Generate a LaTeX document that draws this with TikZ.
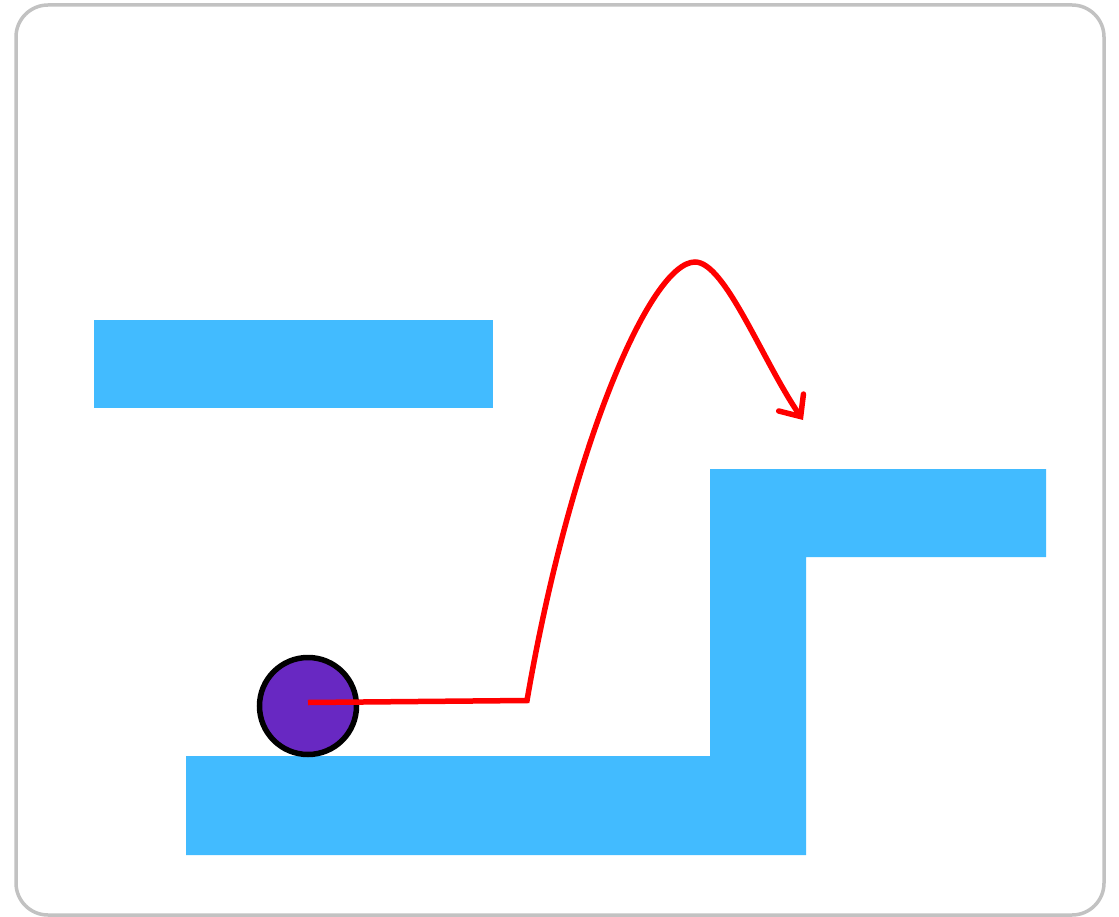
\documentclass[tikz,border=0pt]{standalone}
\usetikzlibrary{arrows.meta}
\definecolor{platform}{HTML}{42BBFF}
\definecolor{ballc}{HTML}{6828C2}
\definecolor{frame}{HTML}{C2C2C2}
\tikzset{
  plat/.style={fill=platform,draw=none},
  path/.style={draw=red,line width=5.5pt,line join=miter},
}
\begin{document}
\begin{tikzpicture}[x=1pt,y=-1pt]
\useasboundingbox (0,0) rectangle (1119,917);
\draw[frame,line width=3.5pt,rounded corners=32pt] (16,5) rectangle (1104,915);
\fill[plat] (94,320) rectangle (493,408);
\fill[plat] (710,469) -- (1046,469) -- (1046,557) -- (806,557) -- (806,855) -- (186,855) -- (186,756) -- (710,756) -- cycle;
\node[circle,fill=ballc,draw=black,line width=5.5pt,minimum size=97pt,inner sep=0pt] (ball) at (308,706) {};
\coordinate (kink) at (527,700.5);
\coordinate (peak) at (695,262);
\coordinate (land) at (803,420);
\draw[path,-{Straight Barb[length=17pt,width=30pt,line cap=round]}]
  (308,702.5) -- (kink)
  .. controls (570,450) and (650,262) .. (peak)
  .. controls (725,262) and (762,360) .. (land);
\end{tikzpicture}
\end{document}
